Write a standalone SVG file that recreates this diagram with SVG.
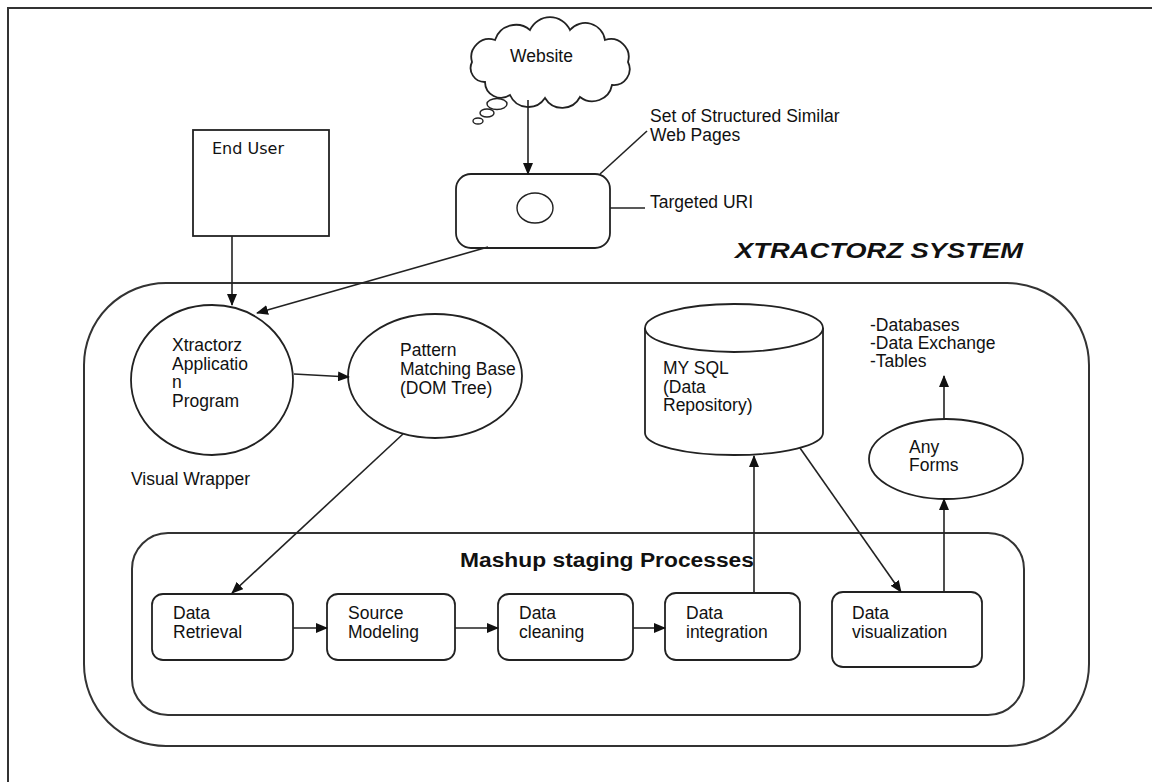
<svg xmlns="http://www.w3.org/2000/svg" width="1152" height="782" viewBox="0 0 1152 782">
<defs>
<marker id="ah" markerUnits="userSpaceOnUse" markerWidth="12" markerHeight="10" refX="11" refY="5" orient="auto">
<path d="M0,0 L12,5 L0,10 Z" fill="#111"/>
</marker>
<style>
.ln{fill:none;stroke:#222;stroke-width:1.6}
.bx{fill:#fff;stroke:#222;stroke-width:1.8}
.fr{fill:none;stroke:#333;stroke-width:2}
.t{font-family:"Liberation Sans",Arial,sans-serif;font-size:17.5px;fill:#111}
.tv{font-family:"DejaVu Sans",Verdana,sans-serif;font-size:16px;fill:#111}
.tb{font-family:"Liberation Sans",Arial,sans-serif;font-weight:bold;fill:#111}
</style>
</defs>
<rect width="1152" height="782" fill="#fff"/>
<path class="fr" d="M8,782 V8 H1152"/>

<g id="system">
<rect class="fr" x="84" y="283" width="1005" height="463" rx="82" ry="82"/>
<text class="tb" x="735" y="258" font-size="22" font-style="italic" textLength="288" lengthAdjust="spacingAndGlyphs">XTRACTORZ SYSTEM</text>
</g>

<g id="mashup">
<rect class="fr" x="132" y="533" width="892" height="182" rx="36" ry="36"/>
<text class="tb" x="460" y="567" font-size="20" textLength="294" lengthAdjust="spacingAndGlyphs">Mashup staging Processes</text>
</g>

<g id="website">
<path class="bx" d="M472,62 A18,18 0 0 1 495,40 A22,22 0 0 1 530,30 A22,22 0 0 1 570,30 A20,20 0 0 1 605,40 A18,18 0 0 1 628,62 A16,16 0 0 1 612,85 A20,20 0 0 1 580,97 A20,20 0 0 1 545,98 A20,20 0 0 1 510,95 A16,16 0 0 1 485,82 A14,14 0 0 1 472,62 Z"/>
<ellipse class="bx" cx="497" cy="104" rx="10" ry="5.5" style="stroke-width:1.4"/>
<ellipse class="bx" cx="487" cy="113" rx="7" ry="4" style="stroke-width:1.4"/>
<ellipse class="bx" cx="478" cy="121" rx="5" ry="3" style="stroke-width:1.4"/>
<text class="t" x="510" y="62">Website</text>
</g>

<g id="url-box">
<rect class="bx" x="456" y="174" width="154" height="74" rx="15" ry="15"/>
<ellipse class="bx" cx="535" cy="208" rx="18" ry="15" style="stroke-width:1.4"/>
</g>

<g id="labels">
<text class="t" x="650" y="122">Set of Structured Similar</text>
<text class="t" x="650" y="140.5">Web Pages</text>
<text class="t" x="650" y="208">Targeted URI</text>
<text class="t" x="131" y="485">Visual Wrapper</text>
<text class="t" x="870" y="331">-Databases</text>
<text class="t" x="870" y="349">-Data Exchange</text>
<text class="t" x="870" y="367">-Tables</text>
</g>

<g id="end-user">
<rect class="bx" x="193" y="130" width="136" height="106"/>
<text class="tv" x="212" y="154">End User</text>
</g>

<g id="app">
<ellipse class="bx" cx="212" cy="380" rx="81" ry="75"/>
<text class="t" x="172" y="351">Xtractorz</text>
<text class="t" x="172" y="369.5">Applicatio</text>
<text class="t" x="172" y="388">n</text>
<text class="t" x="172" y="406.5">Program</text>
</g>

<g id="pattern">
<ellipse class="bx" cx="435" cy="376" rx="87" ry="62"/>
<text class="t" x="400" y="356">Pattern</text>
<text class="t" x="400" y="375">Matching Base</text>
<text class="t" x="400" y="393.5">(DOM Tree)</text>
</g>

<g id="mysql">
<path class="bx" d="M645,328 V433 A89,22 0 0 0 823,433 V328"/>
<ellipse class="bx" cx="734" cy="328" rx="89" ry="24"/>
<text class="t" x="663" y="374">MY SQL</text>
<text class="t" x="663" y="392.5">(Data</text>
<text class="t" x="663" y="411">Repository)</text>
</g>

<g id="any-forms">
<ellipse class="bx" cx="946" cy="459" rx="77" ry="40"/>
<text class="t" x="909" y="453">Any</text>
<text class="t" x="909" y="471">Forms</text>
</g>

<g id="retrieval">
<rect class="bx" x="152" y="594" width="141" height="66" rx="11" ry="11"/>
<text class="t" x="173" y="619">Data</text>
<text class="t" x="173" y="638">Retrieval</text>
</g>
<g id="modeling">
<rect class="bx" x="327" y="594" width="128" height="66" rx="11" ry="11"/>
<text class="t" x="348" y="619">Source</text>
<text class="t" x="348" y="638">Modeling</text>
</g>
<g id="cleaning">
<rect class="bx" x="498" y="594" width="135" height="66" rx="11" ry="11"/>
<text class="t" x="519" y="619">Data</text>
<text class="t" x="519" y="638">cleaning</text>
</g>
<g id="integration">
<rect class="bx" x="665" y="593" width="135" height="67" rx="11" ry="11"/>
<text class="t" x="686" y="619">Data</text>
<text class="t" x="686" y="638">integration</text>
</g>
<g id="visualization">
<rect class="bx" x="832" y="592" width="150" height="75" rx="11" ry="11"/>
<text class="t" x="852" y="619">Data</text>
<text class="t" x="852" y="638">visualization</text>
</g>

<g id="connectors">
<line class="ln" x1="528" y1="100" x2="528" y2="174" marker-end="url(#ah)"/>
<line class="ln" x1="600" y1="174" x2="647" y2="131"/>
<line class="ln" x1="610" y1="208" x2="645" y2="208"/>
<line class="ln" x1="488" y1="247" x2="257" y2="313" marker-end="url(#ah)"/>
<line class="ln" x1="232" y1="236" x2="232" y2="305" marker-end="url(#ah)"/>
<line class="ln" x1="294" y1="374" x2="349" y2="377" marker-end="url(#ah)"/>
<line class="ln" x1="403" y1="434" x2="232" y2="593" marker-end="url(#ah)"/>
<line class="ln" x1="293" y1="628" x2="327" y2="628" marker-end="url(#ah)"/>
<line class="ln" x1="455" y1="628" x2="498" y2="628" marker-end="url(#ah)"/>
<line class="ln" x1="633" y1="628" x2="665" y2="628" marker-end="url(#ah)"/>
<line class="ln" x1="754" y1="593" x2="754" y2="456" marker-end="url(#ah)"/>
<line class="ln" x1="800" y1="448" x2="901" y2="592" marker-end="url(#ah)"/>
<line class="ln" x1="944" y1="592" x2="944" y2="499" marker-end="url(#ah)"/>
<line class="ln" x1="944" y1="419" x2="944" y2="376" marker-end="url(#ah)"/>
</g>
</svg>
